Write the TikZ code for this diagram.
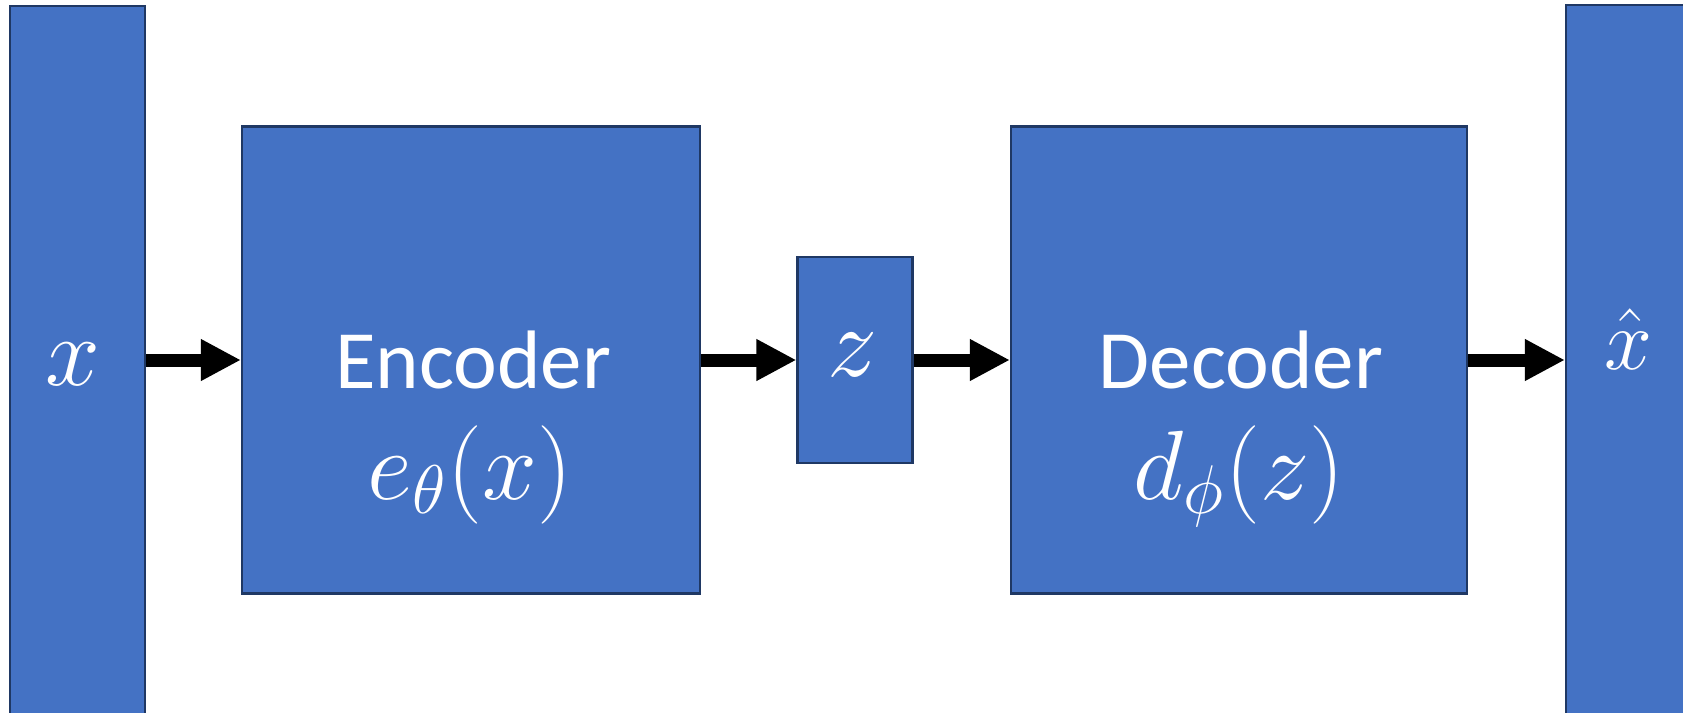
\RequirePackage{fix-cm}
\documentclass[tikz,border=0pt]{standalone}
\usepackage[no-math]{fontspec}
\newfontfamily\labelfont{Carlito}
\usetikzlibrary{arrows.meta,positioning}

\definecolor{boxblue}{HTML}{4472C4}
\definecolor{boxedge}{HTML}{1F3864}

\begin{document}
\begin{tikzpicture}[
  block/.style={draw=boxedge, fill=boxblue, line width=0.022cm, inner sep=0pt},
  flow/.style={line width=0.13cm, -{Triangle[length=0.40cm, width=0.39cm]}},
  boxtitle/.style={text=white, font=\labelfont\fontsize{23.6}{28}\selectfont, inner sep=0pt, anchor=base},
  boxmath/.style={text=white, font=\fontsize{28}{33}\selectfont, inner sep=0pt, anchor=base}
]

  \path[use as bounding box, clip] (0,0) rectangle (16.83,7.12);

  % -- input and reconstruction columns --
  \node[block, minimum width=1.35cm, minimum height=7.08cm] (xin) at (0.775,3.52) {};
  \node[block, minimum width=1.35cm, minimum height=7.10cm] (xout) at (16.335,3.52) {};

  % -- encoder, latent code, decoder --
  \node[block, minimum width=4.58cm, minimum height=4.67cm] (enc) at (4.71,3.52) {};
  \node[block, minimum width=1.15cm, minimum height=2.06cm] (code) at (8.55,3.52) {};
  \node[block, minimum width=4.56cm, minimum height=4.67cm] (dec) at (12.39,3.52) {};

  % -- flow between blocks --
  \draw[flow] (xin.east |- enc.west) -- (enc.west);
  \draw[flow] (enc.east) -- (code.west);
  \draw[flow] (code.east) -- (dec.west);
  \draw[flow] (dec.east) -- (xout.west |- dec.east);

  % -- labels --
  \node[boxmath] (xlbl) at ([xshift=-0.045cm, yshift=-0.25cm]xin.center) {$x$};
  \node[boxmath, font=\fontsize{24.5}{29}\selectfont] (xhatlbl) at ([xshift=-0.055cm, yshift=-0.09cm]xout.center) {$\hat{x}$};
  \node[boxmath, font=\fontsize{28.5}{33}\selectfont] (zlbl) at ([xshift=-0.02cm, yshift=-0.16cm]code.center) {$z$};

  \node[boxtitle] (enctitle) at ([xshift=0.02cm, yshift=-0.285cm]enc.center) {Encoder};
  \node[boxmath] (encfun) at ([xshift=-0.01cm, yshift=-1.39cm]enc.center) {$e_\theta(x)$};
  \node[boxtitle] (dectitle) at ([xshift=0.02cm, yshift=-0.285cm]dec.center) {Decoder};
  \node[boxmath] (decfun) at ([xshift=0.0cm, yshift=-1.39cm]dec.center) {$d_\phi(z)$};

\end{tikzpicture}
\end{document}
